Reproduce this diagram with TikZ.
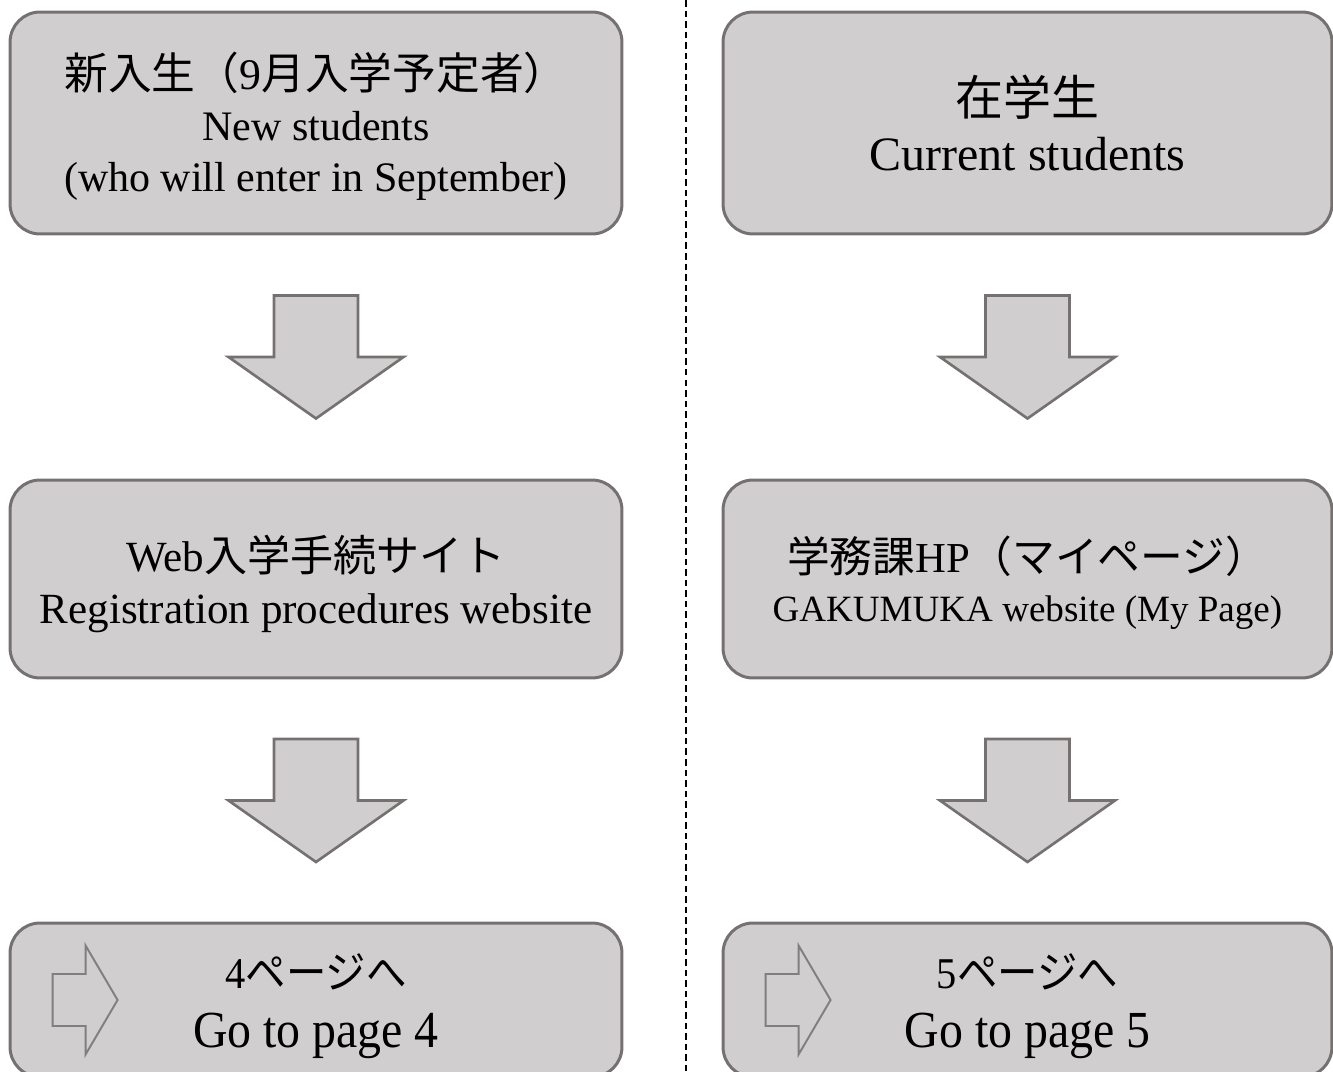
\documentclass[tikz,border=0pt]{standalone}
\usepackage{graphicx}
\usepackage{fontspec}
\setmainfont{Liberation Serif}
\newfontfamily\jp{Noto Sans CJK JP}
\usetikzlibrary{calc}
\definecolor{boxfill}{HTML}{D0CECE}
\definecolor{boxline}{HTML}{767171}
\definecolor{iconline}{HTML}{7F7F7F}

\begin{document}
\begin{tikzpicture}[x=0.02cm,y=-0.02cm,
 box/.style={draw=boxline,fill=boxfill,line width=1.7pt,rounded corners=0.6cm,inner sep=0pt},
 lab/.style={align=center,inner sep=0pt},
 flow/.style={draw=boxline,fill=boxfill,line width=1.5pt,line join=miter},
 icon/.style={draw=iconline,line width=1.1pt,line join=miter},
 divider/.style={dash pattern=on 3.7pt off 2.3pt,line width=1.1pt},
 downarr/.pic={\path[flow] (-42,-61.5)--(42,-61.5)--(42,0)--(87.5,0)--(0,61.5)--(-87.5,0)--(-42,0)--cycle;},
 gothere/.pic={\path[icon] (44,-26)--(77,-26)--(77,-54.5)--(109,0)--(77,54.5)--(77,26)--(44,26)--cycle;}]
\useasboundingbox (0,0) rectangle (1333,1072);
\clip (0,0) rectangle (1333,1072);
% dividing line between the two columns
\coordinate (divtop) at (686,0);
\coordinate (divbot) at (686,1072);
\draw[divider] (divtop)--(divbot);
% boxes
\node[box,minimum width=12.24cm,minimum height=4.44cm] (newst) at (316,123) {};
\node[box,minimum width=12.24cm,minimum height=3.96cm] (webreg) at (316,579) {};
\node[box,minimum width=12.24cm,minimum height=3.08cm] (go4) at (316,1000) {};
\node[box,minimum width=12.18cm,minimum height=4.44cm] (curst) at (1027.5,123) {};
\node[box,minimum width=12.18cm,minimum height=3.96cm] (mypage) at (1027.5,579) {};
\node[box,minimum width=12.18cm,minimum height=3.08cm] (go5) at (1027.5,1000) {};
% texts
\node[lab,font=\fontsize{23.9}{29}\selectfont] (newsttxt) at (316,126)
 {{\fontsize{24.9}{29}\selectfont{\jp 新入生（}9{\jp 月入学予定者）}}\\
  {\fontsize{23.9}{29}\selectfont New students}\\
  {\fontsize{23.9}{29}\selectfont (who will enter in September)}};
\node[lab,font=\fontsize{24.5}{29.5}\selectfont] (webregtxt) at (316,584)
 {{\fontsize{24.5}{29.5}\selectfont Web{\jp 入学手続サイト}}\\
  {\fontsize{24.5}{29.5}\selectfont Registration procedures website}};
\node[lab,font=\fontsize{29.6}{33.6}\selectfont] (go4txt) at (316,1006)
 {\scalebox{0.92}[1]{\fontsize{25}{33.6}\selectfont 4{\jp ページへ}}\\
  \scalebox{0.92}[1]{\fontsize{29.6}{33.6}\selectfont Go to page 4}};
\node[lab,font=\fontsize{27.3}{31.3}\selectfont] (cursttxt) at (1027.5,123)
 {{\fontsize{27.3}{31.3}\selectfont\jp 在学生}\\
  {\fontsize{27.3}{31.3}\selectfont Current students}};
\node[lab,font=\fontsize{24.3}{28}\selectfont] (mypagetxt) at (1027.5,583)
 {{\fontsize{24.3}{28}\selectfont{\jp 学務課}HP{\jp （マイページ）}}\\
  {\fontsize{21.1}{28}\selectfont GAKUMUKA website (My Page)}};
\node[lab,font=\fontsize{29.6}{33.6}\selectfont] (go5txt) at (1027.5,1006)
 {\scalebox{0.92}[1]{\fontsize{25}{33.6}\selectfont 5{\jp ページへ}}\\
  \scalebox{0.92}[1]{\fontsize{29.6}{33.6}\selectfont Go to page 5}};
% block arrows between boxes
\pic at ($(newst.south)!.5!(webreg.north)$) {downarr};
\pic at ($(webreg.south)!.5!(go4.north)$) {downarr};
\pic at ($(curst.south)!.5!(mypage.north)$) {downarr};
\pic at ($(mypage.south)!.5!(go5.north)$) {downarr};
% small arrows in the last boxes
\pic at (go4.west) {gothere};
\pic at (go5.west) {gothere};
\end{tikzpicture}
\end{document}
